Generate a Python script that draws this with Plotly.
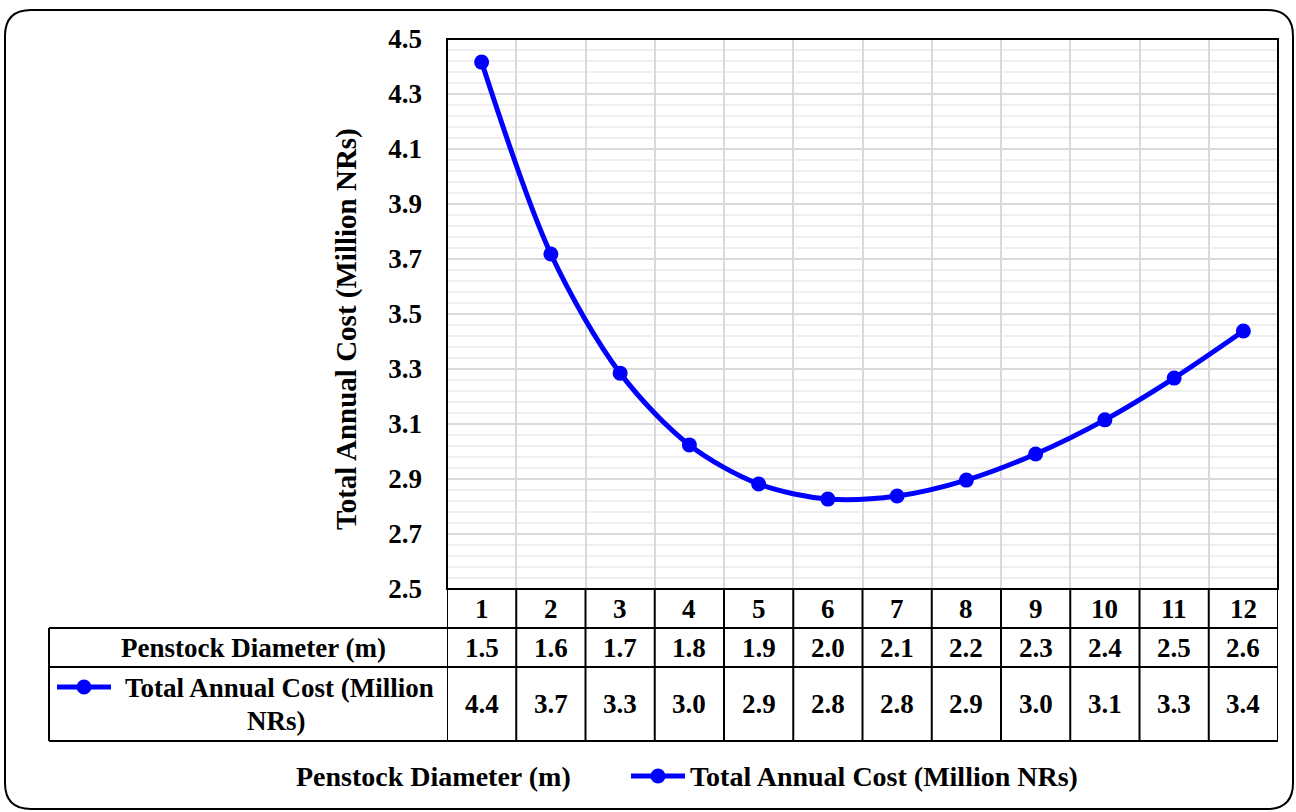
import plotly.graph_objects as go

categories = [1, 2, 3, 4, 5, 6, 7, 8, 9, 10, 11, 12]
diameter = [1.5, 1.6, 1.7, 1.8, 1.9, 2.0, 2.1, 2.2, 2.3, 2.4, 2.5, 2.6]
annual_cost = [4.416, 3.718, 3.285, 3.024, 2.882, 2.827, 2.838, 2.896, 2.991, 3.115, 3.267, 3.438]

W, H = 1296, 812
FONT = "Liberation Serif"
BLUE = "#0000FF"

def px(x):
    return x / W

def py(y):
    return 1 - y / H

# plot area (pixels)
PL, PR, PT, PB = 447, 1278, 39, 589
ROW1, ROW2, ROW3 = 628, 667, 741
TL = 49

fig = go.Figure()
fig.add_trace(go.Scatter(
    x=categories, y=annual_cost, mode="lines+markers",
    line=dict(color=BLUE, width=5, shape="spline", smoothing=0.9),
    marker=dict(color=BLUE, size=15),
    name="Total Annual Cost (Million NRs)", showlegend=False,
))

shapes = []
ann = []

# table vertical lines at category boundaries
for i in range(len(categories) + 1):
    xv = i + 0.5
    shapes.append(dict(type="line", xref="x", yref="paper", x0=xv, x1=xv,
                       y0=py(PB), y1=py(ROW3), line=dict(color="black", width=2)))
# horizontal table lines
shapes.append(dict(type="line", xref="paper", yref="paper", x0=px(PL), x1=px(PR),
                   y0=py(PB), y1=py(PB), line=dict(color="black", width=2)))
for yy in (ROW1, ROW2, ROW3):
    shapes.append(dict(type="line", xref="paper", yref="paper", x0=px(TL), x1=px(PR),
                       y0=py(yy), y1=py(yy), line=dict(color="black", width=2)))
shapes.append(dict(type="line", xref="paper", yref="paper", x0=px(TL), x1=px(TL),
                   y0=py(ROW1), y1=py(ROW3), line=dict(color="black", width=2)))
# plot area border
shapes.append(dict(type="rect", xref="paper", yref="paper", x0=px(PL), x1=px(PR),
                   y0=py(PB), y1=py(PT), line=dict(color="black", width=2)))

# rounded outer border
x0, x1, y0, y1, r = 5, 1293, 10, 809, 26
pts = [
    f"M {px(x0 + r)},{py(y0)}",
    f"L {px(x1 - r)},{py(y0)}",
    f"Q {px(x1)},{py(y0)} {px(x1)},{py(y0 + r)}",
    f"L {px(x1)},{py(y1 - r)}",
    f"Q {px(x1)},{py(y1)} {px(x1 - r)},{py(y1)}",
    f"L {px(x0 + r)},{py(y1)}",
    f"Q {px(x0)},{py(y1)} {px(x0)},{py(y1 - r)}",
    f"L {px(x0)},{py(y0 + r)}",
    f"Q {px(x0)},{py(y0)} {px(x0 + r)},{py(y0)} Z",
]
shapes.append(dict(type="path", xref="paper", yref="paper", path=" ".join(pts),
                   line=dict(color="black", width=2)))

# legend keys (table and bottom legend)
def key(cx, cy):
    shapes.append(dict(type="line", xref="paper", yref="paper", x0=px(cx - 27), x1=px(cx + 27),
                       y0=py(cy), y1=py(cy), line=dict(color=BLUE, width=5)))
    rr = 7.5
    shapes.append(dict(type="circle", xref="paper", yref="paper", x0=px(cx - rr), x1=px(cx + rr),
                       y0=py(cy + rr), y1=py(cy - rr), fillcolor=BLUE, line=dict(color=BLUE, width=0)))

key(84, 687)
key(658, 776)

tf = dict(family=FONT, size=27, color="black")
lf = dict(family=FONT, size=28, color="black")
for c, d, v in zip(categories, diameter, annual_cost):
    ann.append(dict(x=c, y=py((PB + ROW1) / 2), xref="x", yref="paper", text=f"<b>{c}</b>",
                    showarrow=False, font=tf, xanchor="center", yanchor="middle"))
    ann.append(dict(x=c, y=py((ROW1 + ROW2) / 2), xref="x", yref="paper", text=f"<b>{d:.1f}</b>",
                    showarrow=False, font=tf, xanchor="center", yanchor="middle"))
    ann.append(dict(x=c, y=py((ROW2 + ROW3) / 2), xref="x", yref="paper", text=f"<b>{v:.1f}</b>",
                    showarrow=False, font=tf, xanchor="center", yanchor="middle"))

ann.append(dict(x=px(253), y=py(648), xref="paper", yref="paper", text="<b>Penstock Diameter (m)</b>",
                showarrow=False, font=tf, xanchor="center", yanchor="middle"))
ann.append(dict(x=px(279), y=py(688), xref="paper", yref="paper",
                text="<b>Total Annual Cost (Million</b>",
                showarrow=False, font=tf, xanchor="center", yanchor="middle"))
ann.append(dict(x=px(276), y=py(721), xref="paper", yref="paper",
                text="<b>NRs)</b>",
                showarrow=False, font=tf, xanchor="center", yanchor="middle"))
# bottom legend
ann.append(dict(x=px(433), y=py(776), xref="paper", yref="paper", text="<b>Penstock Diameter (m)</b>",
                showarrow=False, font=lf, xanchor="center", yanchor="middle"))
ann.append(dict(x=px(688), y=py(776), xref="paper", yref="paper",
                text="<b>Total Annual Cost (Million NRs)</b>",
                showarrow=False, font=lf, xanchor="left", yanchor="middle"))
# y-axis title
ann.append(dict(x=px(346), y=py(329), xref="paper", yref="paper",
                text="<b>Total Annual Cost (Million NRs)</b>", textangle=-90,
                showarrow=False, font=dict(family=FONT, size=29, color="black"),
                xanchor="center", yanchor="middle"))

fig.update_layout(
    width=W, height=H,
    margin=dict(l=0, r=0, t=0, b=0, autoexpand=False),
    paper_bgcolor="white", plot_bgcolor="white",
    shapes=shapes, annotations=ann,
    showlegend=False,
    xaxis=dict(domain=[px(PL), px(PR)], range=[0.5, 12.5], tickmode="linear", tick0=0.5, dtick=1,
               showticklabels=False, showgrid=True, gridcolor="#d9d9d9", gridwidth=1.5,
               zeroline=False, showline=False, ticks="", automargin=False),
    yaxis=dict(domain=[py(PB), py(PT)], range=[2.5, 4.5], tickmode="linear", tick0=2.5, dtick=0.2,
               tickformat=".1f", showgrid=True, gridcolor="#d9d9d9", gridwidth=1.5,
               minor=dict(tickmode="linear", tick0=2.5, dtick=0.04, showgrid=True,
                          gridcolor="#efefef", gridwidth=1.5),
               zeroline=False, showline=False, ticks="", ticklabelstandoff=24, automargin=False,
               tickprefix="<b>", ticksuffix="</b>",
               tickfont=dict(family=FONT, size=27, color="black")),
)

fig.write_html("out.html")
